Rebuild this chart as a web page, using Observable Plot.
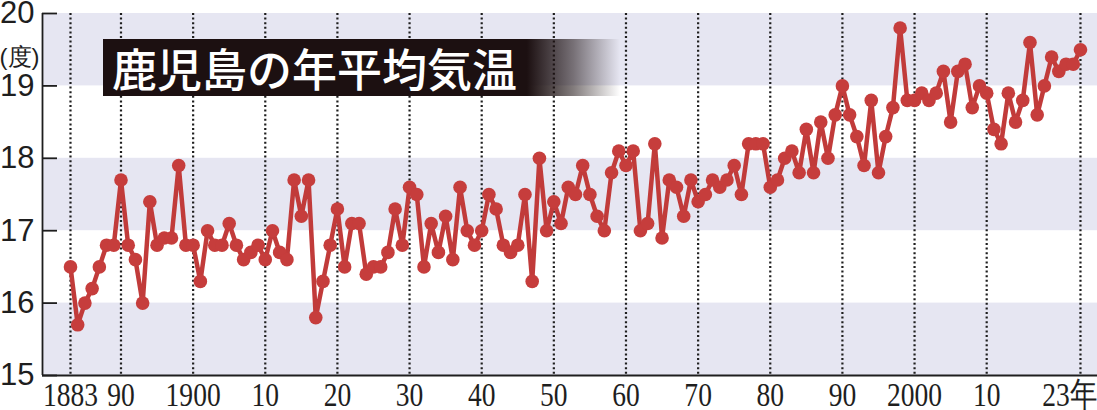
<!DOCTYPE html>
<html><head><meta charset="utf-8">
<script src="https://cdn.jsdelivr.net/npm/d3@7"></script>
<script src="https://cdn.jsdelivr.net/npm/@observablehq/plot@0.6"></script>
<style>
html,body{margin:0;padding:0;background:#fff;}
#wrap{position:relative;width:1097px;height:410px;overflow:hidden;}
#title{position:absolute;left:103px;top:39px;width:517px;height:57px;
  background:linear-gradient(to right,#1c1011 0%,#1c1011 82%,rgba(28,16,17,0.55) 91%,rgba(28,16,17,0) 100%);
  color:#fff;font-family:"Noto Sans CJK JP";font-size:45px;font-weight:500;line-height:57px;
  padding-left:9px;box-sizing:border-box;white-space:nowrap;}
</style></head><body>
<div id="wrap"><div id="chart"></div><div id="title"></div></div>
<script>
const title = "鹿児島の年平均気温";
const unitLabel = "(度)";
const startYear = 1883;
const temps = [
  16.5, 15.7, 16.0, 16.2, 16.5, 16.8, 16.8,                   // 1883-1889
  17.7, 16.8, 16.6, 16.0, 17.4, 16.8, 16.9, 16.9, 17.9, 16.8, // 1890s
  16.8, 16.3, 17.0, 16.8, 16.8, 17.1, 16.8, 16.6, 16.7, 16.8, // 1900s
  16.6, 17.0, 16.7, 16.6, 17.7, 17.2, 17.7, 15.8, 16.3, 16.8, // 1910s
  17.3, 16.5, 17.1, 17.1, 16.4, 16.5, 16.5, 16.7, 17.3, 16.8, // 1920s
  17.6, 17.5, 16.5, 17.1, 16.7, 17.2, 16.6, 17.6, 17.0, 16.8, // 1930s
  17.0, 17.5, 17.3, 16.8, 16.7, 16.8, 17.5, 16.3, 18.0, 17.0, // 1940s
  17.4, 17.1, 17.6, 17.5, 17.9, 17.5, 17.2, 17.0, 17.8, 18.1, // 1950s
  17.9, 18.1, 17.0, 17.1, 18.2, 16.9, 17.7, 17.6, 17.2, 17.7, // 1960s
  17.4, 17.5, 17.7, 17.6, 17.7, 17.9, 17.5, 18.2, 18.2, 18.2, // 1970s
  17.6, 17.7, 18.0, 18.1, 17.8, 18.4, 17.8, 18.5, 18.0, 18.6, // 1980s
  19.0, 18.6, 18.3, 17.9, 18.8, 17.8, 18.3, 18.7, 19.8, 18.8, // 1990s
  18.8, 18.9, 18.8, 18.9, 19.2, 18.5, 19.2, 19.3, 18.7, 19.0, // 2000s
  18.9, 18.4, 18.2, 18.9, 18.5, 18.8, 19.6, 18.6, 19.0, 19.4, // 2010s
  19.2, 19.3, 19.3, 19.5                                      // 2020-2023
];
const years = temps.map((_, i) => startYear + i);
const tickYears  = [1883, 1890, 1900, 1910, 1920, 1930, 1940, 1950, 1960, 1970, 1980, 1990, 2000, 2010, 2023];
const tickLabels = ["1883", "90", "1900", "10", "20", "30", "40", "50", "60", "70", "80", "90", "2000", "10", "23年"];
const yTicks = [15, 16, 17, 18, 19, 20];
const bandLows  = [15, 17, 19];
const bandHighs = [16, 18, 20];

const W = 1097, H = 410, mL = 42, mR = 0, mT = 13, mB = 35;
const xDomain = [1879.12, 2025.36];
const data = years.map((year, i) => ({year, temp: temps[i]}));
const bands = bandLows.map((lo, i) => ({lo, hi: bandHighs[i]}));
const labelOf = d => tickLabels[tickYears.indexOf(d)];
const ink = "#1e1e1e";

const chart = Plot.plot({
  width: W, height: H,
  marginLeft: mL, marginRight: mR, marginTop: mT, marginBottom: mB,
  x: {domain: xDomain},
  y: {domain: [15, 20]},
  style: {background: "transparent", overflow: "visible"},
  marks: [
    Plot.rect(bands, {y1: "lo", y2: "hi", fill: "#e6e6f2"}),
    Plot.ruleX(tickYears, {stroke: ink, strokeWidth: 2.2, strokeDasharray: "2,2.6"}),
    Plot.ruleX([xDomain[0]], {stroke: ink, strokeWidth: 1.8}),
    Plot.ruleY([15], {stroke: ink, strokeWidth: 1.8}),
    Plot.tickY(yTicks, {y: d => d, insetRight: W - mL - mR - 15, stroke: ink, strokeWidth: 1.8}),
    Plot.axisY(yTicks, {tickSize: 0, tickPadding: 8, tickFormat: d => String(d), fontSize: 31, fontFamily: "Liberation Sans", fill: ink, label: null}),
    Plot.axisX(tickYears.slice(0, -1), {tickSize: 0, tickPadding: 6, tickFormat: labelOf, fontSize: 34, fontFamily: "Liberation Serif", fill: ink, label: null}),
    Plot.axisX(tickYears.slice(-1), {tickSize: 0, tickPadding: 6, tickFormat: labelOf, fontSize: 34, fontFamily: "Liberation Serif", fill: ink, label: null, textAnchor: "end", dx: 17}),
    Plot.text([unitLabel], {frameAnchor: "top-left", dx: -3, dy: 34, textAnchor: "end", fontSize: 24, fontFamily: "Liberation Sans", fill: ink}),
    Plot.line(data, {x: "year", y: "temp", stroke: "#c13b3a", strokeWidth: 4.5}),
    Plot.dot(data, {x: "year", y: "temp", r: 6.8, fill: "#c63d3c"})
  ]
});

// condense the serif year labels like the original
d3.select(chart).selectAll("g[aria-label='x-axis tick label'] text").each(function() {
  const t = this.getAttribute("transform") || "";
  this.setAttribute("transform", t + " scale(0.81,1)");
});

document.getElementById("chart").appendChild(chart);
document.getElementById("title").textContent = title;
</script>
</body></html>
